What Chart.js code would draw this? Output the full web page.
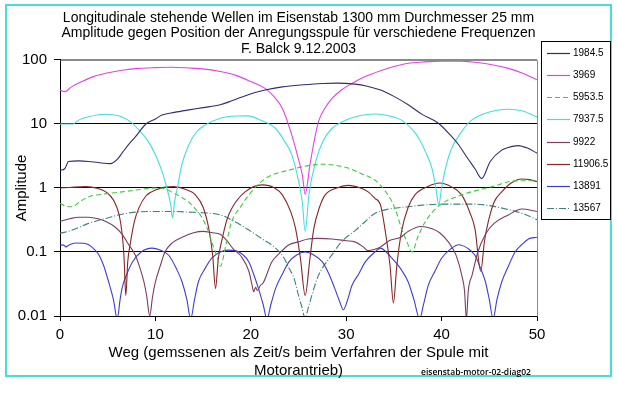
<!DOCTYPE html>
<html>
<head>
<meta charset="utf-8">
<script src="https://cdn.jsdelivr.net/npm/chart.js@4/dist/chart.umd.min.js"></script>
<style>
html,body{margin:0;padding:0;background:#fff;}
#wrap{position:relative;width:618px;height:395px;}
</style>
</head>
<body>
<div id="wrap"><canvas id="c" width="618" height="395"></canvas></div>
<script>
// ---- data ----
const seriesNames = ['1984.5','3969','5953.5','7937.5','9922','11906.5','13891','13567'];

const x1984 = [0,0.5,0.9,2,3,4,5.3,6,6.5,7.2,7.9,9,10,10.7,12,13.5,15,16.8,18,19.8,21.5,23.3,25.5,27.5,29,30.9,32.2,33.6,35,36.5,38,39.7,41,41.8,42.6,43.5,44.2,45.1,46.3,47,48,49,50];
const y1984 = [1.9,2.0,2.6,2.65,2.6,2.5,2.4,2.8,3.5,4.8,6.3,10,12,13.8,15.2,16.6,18,20,23,29,34,38,41,43,43.5,42,39,34,27,20,14,10.2,6.5,4.7,3.1,2.0,1.41,2.6,3.9,4.3,4.6,4.2,3.5];

const x3969 = [0,0.5,1.2,2.3,3.5,4.8,6.5,8.25,10,11.7,13.5,15.2,16.8,18.5,20,21.5,22.5,23.3,24.3,25,25.4,25.7,26.2,26.6,27.1,27.8,28.5,29.5,30.6,32,33.6,35,36.5,38,40,42,43.5,45,47,48.5,50];
const y3969 = [34,32,38,46,55,62,69,74,76,77,75,72,66,57,46,36,26,17.6,6.7,2.8,1.6,0.8,2.3,5,11,18,25,34,43,55,68,79,89,93,96,96,92,86,74,62,49];

const x5953 = [0,0.6,1.3,2,3,4.5,6.5,8,10,11,11.7,12.7,13.5,14.3,14.9,15.5,15.9,16.4,16.8,17.4,18,18.9,19.8,21.5,24,27.5,30.2,31.5,33,33.6,34.2,34.8,35.3,35.8,36.4,36.9,37.5,38.3,39.8,42.1,45.3,47.7,50];
const y5953 = [0.58,0.52,0.51,0.6,0.73,0.8,0.87,0.93,1.0,0.97,0.87,0.72,0.6,0.45,0.34,0.22,0.145,0.09,0.06,0.13,0.30,0.5,0.78,1.4,1.9,2.35,2.05,1.7,1.33,1.1,0.85,0.61,0.4,0.23,0.14,0.1,0.17,0.3,0.54,0.78,1.05,1.29,1.3];

const x7937 = [0,1.4,1.6,2,3,4.8,6.5,7.5,8.25,9.2,10,10.7,11.2,11.6,11.8,12,12.3,12.8,13.5,14.3,15.2,16.8,18.5,19.7,21,22.6,23.5,24.3,25,25.4,25.7,26.1,26.8,27.6,28.5,30,30.9,33,35,35.8,37,37.6,38.5,39,39.4,39.7,40,40.4,41,42.1,43,44.6,47,48.5,50];
const y7937 = [10,10,10.5,11.6,13,14.2,12.9,10.5,8.1,5.5,3.3,1.8,1.0,0.55,0.34,0.6,1.0,2.4,4.7,7.5,9.6,12.3,13.3,13.4,11.5,8.5,5.5,3.3,1.3,0.6,0.21,0.8,2.6,5.5,8.5,11.5,12.9,14.3,12.8,11.5,8,6,3.2,2,1,0.54,1.0,2,4,7.6,11,14.7,17,16,12.9];

const x9922 = [0,1,2,3,4,4.8,5.7,6.5,7.2,7.9,8.4,8.8,9.1,9.4,9.7,10,10.5,11,11.8,12.8,14,15,16,16.8,17.5,18.2,19,19.8,20.1,20.3,20.5,20.7,21,21.3,22.2,23,24,25,26,27,28.5,30,30.9,31.8,32.3,33,33.6,34.5,35.7,36.5,37.8,39,39.8,40.7,41.5,42.1,42.4,42.6,42.8,43.2,43.8,44.6,45.5,47,48.4,50];
const y9922 = [0.30,0.33,0.35,0.35,0.33,0.30,0.25,0.19,0.13,0.089,0.055,0.034,0.02,0.01,0.02,0.034,0.06,0.1,0.14,0.17,0.2,0.21,0.2,0.19,0.15,0.11,0.085,0.05,0.032,0.024,0.028,0.025,0.03,0.033,0.07,0.095,0.13,0.144,0.16,0.163,0.16,0.15,0.144,0.12,0.105,0.11,0.12,0.15,0.17,0.21,0.25,0.23,0.2,0.144,0.09,0.044,0.025,0.009,0.025,0.044,0.1,0.19,0.28,0.38,0.47,0.43];

const x11906 = [0,1,2.7,4,4.8,5.6,6.2,6.5,6.7,6.9,7.1,7.4,7.8,8.25,9,10,11.9,13.2,14.2,15,15.6,16,16.3,16.6,17,17.5,18,19.4,21.2,22.5,23.3,24.2,24.7,25.2,25.7,26.2,26.6,27.2,27.8,29,30.2,31.5,32.3,33,33.6,34.1,34.6,34.95,35.3,35.8,36.5,37.2,38.5,39.8,41,42.1,43,43.5,44.1,44.5,44.9,45.5,46.3,47.3,48.4,49.2,50];
const y11906 = [1.0,1.02,1.05,0.98,0.87,0.65,0.38,0.2,0.09,0.021,0.07,0.144,0.3,0.48,0.75,0.93,1.05,0.95,0.78,0.5,0.23,0.09,0.027,0.08,0.16,0.32,0.48,0.87,1.12,1.0,0.78,0.42,0.23,0.08,0.021,0.08,0.23,0.5,0.78,1.0,1.1,1.0,0.87,0.69,0.54,0.21,0.06,0.016,0.06,0.21,0.5,0.78,1.05,1.2,1.05,0.78,0.4,0.23,0.05,0.15,0.3,0.6,0.87,1.2,1.38,1.35,1.26];

const x13891 = [0,0.5,0.6,1,1.6,2.5,3,3.6,4.1,4.6,5.1,5.6,6,6.3,6.5,7,7.6,8.5,9.65,10.5,11.4,12.2,12.8,13.3,13.7,14.1,14.5,15.2,15.9,16.8,17.6,18.4,19.2,19.8,20.3,20.8,21.3,21.7,22.1,22.6,23.3,24,24.8,25.7,26.6,27.5,28.2,28.8,29.3,29.7,30.1,30.6,31.3,32,33,33.6,34.2,34.8,35.7,36.5,37.1,37.7,38.1,38.6,39.3,40,40.9,41.8,42.7,43.5,44.1,44.6,45,45.4,45.8,46.3,47,47.7,48.4,49.1,50];
const y13891 = [0.13,0.125,0.12,0.13,0.138,0.137,0.13,0.11,0.089,0.06,0.034,0.018,0.009,0.018,0.027,0.045,0.07,0.1,0.115,0.107,0.089,0.055,0.034,0.018,0.009,0.018,0.034,0.055,0.08,0.1,0.107,0.105,0.09,0.07,0.045,0.027,0.015,0.009,0.015,0.027,0.045,0.07,0.09,0.1,0.09,0.07,0.045,0.027,0.017,0.0125,0.017,0.03,0.045,0.07,0.1,0.115,0.1,0.08,0.055,0.034,0.018,0.009,0.015,0.03,0.05,0.08,0.11,0.13,0.115,0.089,0.055,0.034,0.018,0.009,0.018,0.034,0.06,0.1,0.13,0.16,0.17];

const x13567 = [0,1.3,3,5,6.5,8,10,12,13.5,15,16.8,18.3,19.8,21.2,22.6,23.5,24,24.5,25,25.4,25.7,26,26.4,27,27.5,28.5,29.5,31,32,33,34.5,36.5,38,40,42,43.5,45,47,48.5,50];
const y13567 = [0.195,0.22,0.28,0.34,0.39,0.42,0.43,0.43,0.42,0.41,0.38,0.3,0.22,0.16,0.115,0.08,0.056,0.04,0.021,0.013,0.009,0.013,0.021,0.04,0.056,0.09,0.144,0.22,0.3,0.4,0.47,0.51,0.54,0.56,0.56,0.56,0.53,0.46,0.4,0.32];

const xTickValues = [0,10,20,30,40,50];
const yTickValues = [0.01,0.1,1,10,100];
const yTickLabels = ['0.01','0.1','1','10','100'];

const titleLines = ['Longitudinale stehende Wellen im Eisenstab 1300 mm Durchmesser 25 mm',
                    'Amplitude gegen Position der Anregungsspule für verschiedene Frequenzen',
                    'F. Balck 9.12.2003'];
const xTitleLines = ['Weg (gemssenen als Zeit/s beim Verfahren der Spule mit', 'Motorantrieb)'];
const yTitle = 'Amplitude';
const footNote = 'eisenstab-motor-02-diag02';

// ---- build ----
function pts(xs, ys){ return xs.map((x,i)=>({x:x, y:ys[i]})); }
const FONT = '"Liberation Sans", Arial, sans-serif';

const styles = [
  {c:'#2e2e6e', d:[]},
  {c:'#e044e0', d:[]},
  {c:'#3fc83f', d:[5,3]},
  {c:'#44dede', d:[]},
  {c:'#7b3d62', d:[]},
  {c:'#862626', d:[]},
  {c:'#3d3dd6', d:[]},
  {c:'#3f8080', d:[7,2,1,2]}
];
const xs = [x1984,x3969,x5953,x7937,x9922,x11906,x13891,x13567];
const ys = [y1984,y3969,y5953,y7937,y9922,y11906,y13891,y13567];

const datasets = seriesNames.map((n,i)=>({
  label:n, data:pts(xs[i],ys[i]), showLine:true, borderColor:styles[i].c,
  backgroundColor:styles[i].c, borderDash:styles[i].d, borderWidth:1.1,
  pointRadius:0, cubicInterpolationMode:'monotone', fill:false
}));

const framePlugin = {
  id:'frame',
  beforeDraw(chart){
    const ctx = chart.ctx;
    ctx.save();
    ctx.fillStyle = '#fff';
    ctx.fillRect(0,0,chart.width,chart.height);
    ctx.strokeStyle = '#48dcdc';
    ctx.lineWidth = 2;
    ctx.strokeRect(6,5,605,371);
    ctx.restore();
  },
  afterDraw(chart){
    const ctx = chart.ctx, a = chart.chartArea;
    ctx.save();
    ctx.strokeStyle = '#8a8a8a';
    ctx.lineWidth = 1;
    ctx.beginPath();
    ctx.moveTo(Math.round(a.left)+0.5, Math.round(a.top)+0.5);
    ctx.lineTo(Math.round(a.right)+0.5, Math.round(a.top)+0.5);
    ctx.lineTo(Math.round(a.right)+0.5, Math.round(a.bottom)+0.5);
    ctx.stroke();
    const lx = 541.5, ly = 41.5, lw = 69, lh = 178;
    ctx.fillStyle = '#fff';
    ctx.fillRect(lx,ly,lw,lh);
    ctx.strokeStyle = '#000';
    ctx.strokeRect(lx,ly,lw,lh);
    ctx.font = '10px ' + FONT;
    ctx.textBaseline = 'middle';
    ctx.textAlign = 'left';
    chart.data.datasets.forEach((ds,i)=>{
      const y = Math.round(52.7 + i*22.2) + 0.5;
      ctx.strokeStyle = ds.borderColor;
      ctx.setLineDash(ds.borderDash);
      ctx.lineWidth = 1.2;
      ctx.beginPath(); ctx.moveTo(547,y); ctx.lineTo(570,y); ctx.stroke();
      ctx.setLineDash([]);
      ctx.fillStyle = '#000';
      ctx.fillText(ds.label, 573, y);
    });
    ctx.font = '600 8.5px "Open Sans", sans-serif';
    ctx.fillStyle = '#000';
    ctx.textBaseline = 'middle';
    ctx.fillText(footNote, 421, 373);
    ctx.restore();
  }
};

new Chart(document.getElementById('c'), {
  type:'scatter',
  data:{datasets:datasets},
  plugins:[framePlugin],
  options:{
    responsive:false, animation:false, devicePixelRatio:1,
    layout:{padding:{left:0,right:81,top:0,bottom:0}},
    plugins:{
      legend:{display:false},
      tooltip:{enabled:false},
      title:{display:true, text:titleLines, fullSize:false, color:'#000',
        font:{family:FONT, size:14, weight:'normal', lineHeight:1.107},
        padding:{top:10.25, bottom:3.25}}
    },
    scales:{
      x:{type:'linear', min:0, max:50,
        afterBuildTicks(s){ s.ticks = xTickValues.map(v=>({value:v})); },
        afterFit(s){ s.height = 79; },
        grid:{drawOnChartArea:false, drawTicks:true, tickLength:5, color:'#000', tickColor:'#000'},
        border:{display:true, color:'#000', width:1},
        ticks:{color:'#000', padding:5, font:{family:FONT, size:15}, maxRotation:0,
          callback:(v)=>String(v)},
        title:{display:true, text:xTitleLines, color:'#000',
          font:{family:FONT, size:15, lineHeight:1.2}, padding:{top:0,bottom:15}}
      },
      y:{type:'logarithmic', min:0.01, max:100,
        afterBuildTicks(s){ s.ticks = yTickValues.map(v=>({value:v})); },
        afterFit(s){ s.width = 60; },
        grid:{drawOnChartArea:true, drawTicks:true, tickLength:6,
          color:(c)=> (c.tick && c.tick.value===100) ? '#8a8a8a' : '#000', tickColor:'#000', lineWidth:1},
        border:{display:true, color:'#000', width:1},
        ticks:{color:'#000', padding:7, font:{family:FONT, size:15},
          callback:(v)=>{ const i = yTickValues.indexOf(v); return i>=0 ? yTickLabels[i] : ''; }},
        title:{display:true, text:yTitle, color:'#000',
          font:{family:FONT, size:15, lineHeight:1.2}, padding:{top:13,bottom:0}}
      }
    }
  }
});
</script>
</body>
</html>
